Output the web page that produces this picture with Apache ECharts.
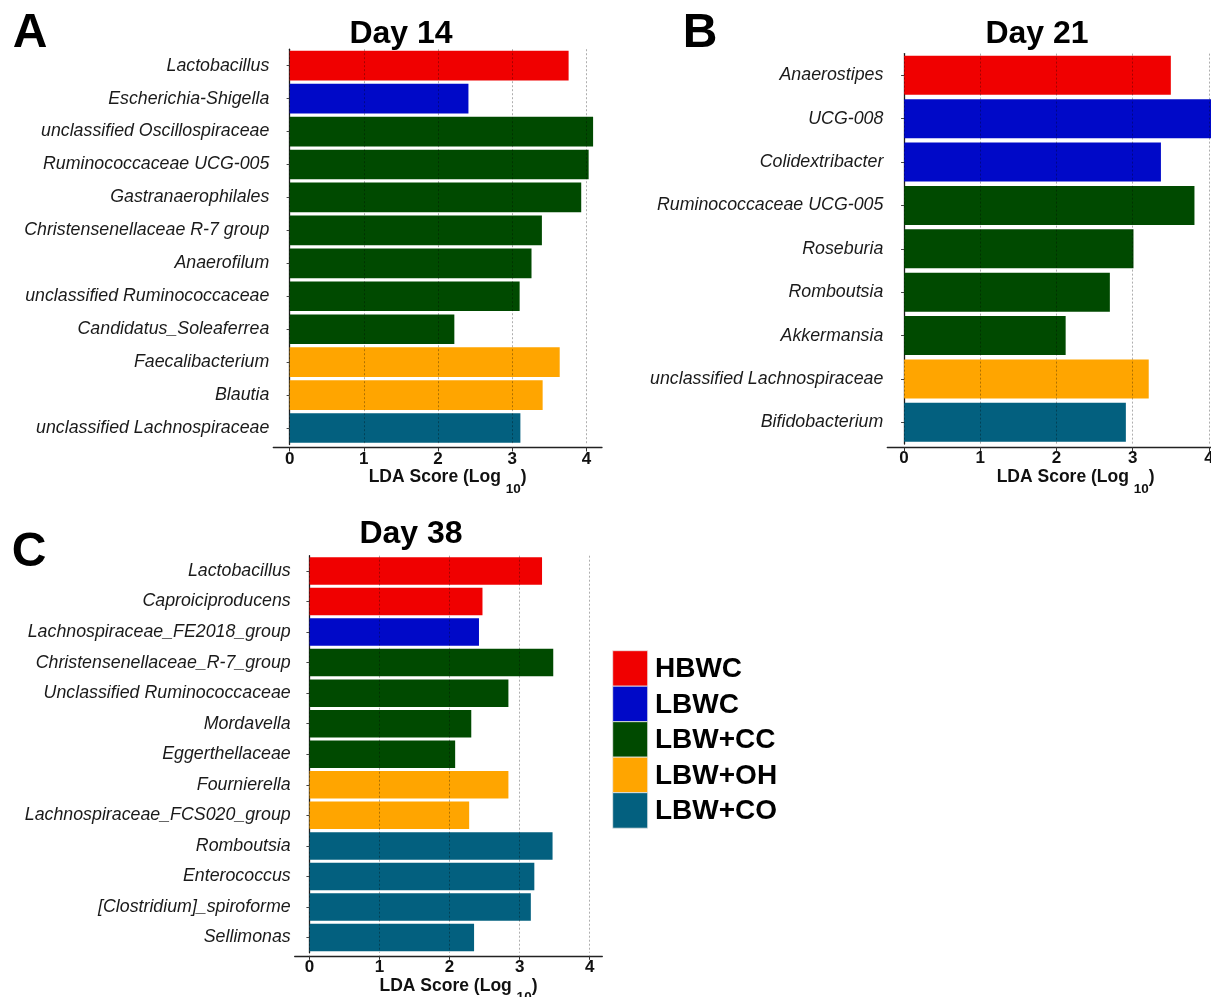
<!DOCTYPE html>
<html>
<head>
<meta charset="utf-8">
<script src="https://cdn.jsdelivr.net/npm/echarts@6/dist/echarts.min.js"></script>
<style>
html,body{margin:0;padding:0;background:#fff;}
#chart{width:1211px;height:997px;}
</style>
</head>
<body>
<div id="chart"></div>
<script>
// ---------- data ----------
const groupNames = ['HBWC', 'LBWC', 'LBW+CC', 'LBW+OH', 'LBW+CO'];
const groupColors = ['#F00000', '#0009C8', '#004A00', '#FFA500', '#03607F'];

const d14Taxa = ['Lactobacillus', 'Escherichia-Shigella', 'unclassified Oscillospiraceae', 'Ruminococcaceae UCG-005',
  'Gastranaerophilales', 'Christensenellaceae R-7 group', 'Anaerofilum', 'unclassified Ruminococcaceae',
  'Candidatus_Soleaferrea', 'Faecalibacterium', 'Blautia', 'unclassified Lachnospiraceae'];
const d14Scores = [3.76, 2.41, 4.09, 4.03, 3.93, 3.40, 3.26, 3.10, 2.22, 3.64, 3.41, 3.11];
const d14Groups = ['HBWC', 'LBWC', 'LBW+CC', 'LBW+CC', 'LBW+CC', 'LBW+CC', 'LBW+CC', 'LBW+CC', 'LBW+CC', 'LBW+OH', 'LBW+OH', 'LBW+CO'];

const d21Taxa = ['Anaerostipes', 'UCG-008', 'Colidextribacter', 'Ruminococcaceae UCG-005', 'Roseburia',
  'Romboutsia', 'Akkermansia', 'unclassified Lachnospiraceae', 'Bifidobacterium'];
const d21Scores = [3.50, 4.25, 3.37, 3.81, 3.01, 2.70, 2.12, 3.21, 2.91];
const d21Groups = ['HBWC', 'LBWC', 'LBWC', 'LBW+CC', 'LBW+CC', 'LBW+CC', 'LBW+CC', 'LBW+OH', 'LBW+CO'];

const d38Taxa = ['Lactobacillus', 'Caproiciproducens', 'Lachnospiraceae_FE2018_group', 'Christensenellaceae_R-7_group',
  'Unclassified Ruminococcaceae', 'Mordavella', 'Eggerthellaceae', 'Fournierella', 'Lachnospiraceae_FCS020_group',
  'Romboutsia', 'Enterococcus', '[Clostridium]_spiroforme', 'Sellimonas'];
const d38Scores = [3.32, 2.47, 2.42, 3.48, 2.84, 2.31, 2.08, 2.84, 2.28, 3.47, 3.21, 3.16, 2.35];
const d38Groups = ['HBWC', 'HBWC', 'LBWC', 'LBW+CC', 'LBW+CC', 'LBW+CC', 'LBW+CC', 'LBW+OH', 'LBW+OH', 'LBW+CO', 'LBW+CO', 'LBW+CO', 'LBW+CO'];

const xTicks = [0, 1, 2, 3, 4];
const panelLetters = ['A', 'B', 'C'];
const panelTitles = ['Day 14', 'Day 21', 'Day 38'];
const axisTitleMain = 'LDA Score (Log ';
const axisTitleSub = '10';

// ---------- build ----------
const FONT = '"Liberation Sans", Arial, Helvetica, sans-serif';
const colorOf = g => groupColors[groupNames.indexOf(g)];

const panels = [
  { taxa: d14Taxa, scores: d14Scores, groups: d14Groups, grid: { left: 273.3, right: 609, top: 49.2, bottom: 552.5 }, min: -0.22, max: 4.21 },
  { taxa: d21Taxa, scores: d21Scores, groups: d21Groups, grid: { left: 887.3, right: -33, top: 53.6, bottom: 553 }, min: -0.22, max: 4.46 },
  { taxa: d38Taxa, scores: d38Scores, groups: d38Groups, grid: { left: 294.7, right: 608.7, top: 555.7, bottom: 44.2 }, min: -0.21, max: 4.18 }
];

const grids = [], xAxes = [], yAxes = [], series = [];
panels.forEach((p, i) => {
  grids.push(Object.assign({ containLabel: false, outerBoundsMode: 'none' }, p.grid));
  xAxes.push({
    type: 'value', gridIndex: i, min: p.min, max: p.max, offset: 3,
    axisLine: { show: true, lineStyle: { color: '#222', width: 1.3 } },
    axisTick: { show: true, customValues: xTicks, length: 4, lineStyle: { color: '#333' } },
    axisLabel: { customValues: xTicks, fontSize: 17, fontWeight: 'bold', color: '#111', margin: 3, fontFamily: FONT },
    splitLine: { show: false },
    name: '{m|' + axisTitleMain + '}{s|' + axisTitleSub + '}{m|)}',
    nameLocation: 'middle', nameGap: 17,
    nameTextStyle: {
      padding: [0, 0, 0, 20],
      rich: {
        m: { fontSize: 17.5, fontWeight: 'bold', color: '#111', fontFamily: FONT, lineHeight: 20, verticalAlign: 'top' },
        s: { fontSize: 13.5, fontWeight: 'bold', color: '#111', fontFamily: FONT, lineHeight: 42, verticalAlign: 'middle' }
      }
    }
  });
  yAxes.push({
    type: 'category', gridIndex: i, data: p.taxa, inverse: true,
    axisLine: { show: true, lineStyle: { color: '#222', width: 1.3 } },
    axisTick: { show: true, alignWithLabel: true, length: 3, lineStyle: { color: '#444' } },
    axisLabel: { fontStyle: 'italic', fontSize: 17.8, color: '#1a1a1a', margin: 4, fontFamily: FONT },
    splitLine: { show: false }
  });
  series.push({
    type: 'bar', xAxisIndex: i, yAxisIndex: i, barCategoryGap: '10%',
    data: p.scores.map((v, k) => ({ value: v, itemStyle: { color: colorOf(p.groups[k]) } })),
    silent: true,
    markLine: {
      silent: true, symbol: ['none', 'none'], animation: false,
      label: { show: false },
      lineStyle: { type: [2, 2], color: 'rgba(0,0,0,0.4)', width: 0.8 },
      data: xTicks.map(t => ({ xAxis: t }))
    }
  });
});

const graphics = [];
const letterPos = [[30, 34], [700, 34], [29, 553]];
const titlePos = [[401, 34], [1037, 34], [411, 534]];
panelLetters.forEach((t, i) => {
  graphics.push({ type: 'text', x: letterPos[i][0], y: letterPos[i][1],
    style: { text: t, font: 'bold 48px ' + FONT, fill: '#000', textAlign: 'center', textVerticalAlign: 'middle' } });
  graphics.push({ type: 'text', x: titlePos[i][0], y: titlePos[i][1],
    style: { text: panelTitles[i], font: 'bold 32px ' + FONT, fill: '#000', textAlign: 'center', textVerticalAlign: 'middle' } });
});
// legend
const legX = 612.7, legY = 650.7, legH = 35.5, legW = 35;
groupNames.forEach((g, k) => {
  graphics.push({ type: 'rect', shape: { x: legX, y: legY + k * legH, width: legW, height: legH },
    style: { fill: groupColors[k], stroke: '#e8e8e8', lineWidth: 0.8 } });
  graphics.push({ type: 'text', x: 655, y: legY + k * legH + legH / 2 + 1,
    style: { text: g, font: 'bold 28px ' + FONT, fill: '#000', textAlign: 'left', textVerticalAlign: 'middle' } });
});

const chart = echarts.init(document.getElementById('chart'), null, { renderer: 'canvas' });
chart.setOption({
  animation: false,
  backgroundColor: '#fff',
  grid: grids, xAxis: xAxes, yAxis: yAxes, series: series,
  graphic: graphics
});
</script>
</body>
</html>
